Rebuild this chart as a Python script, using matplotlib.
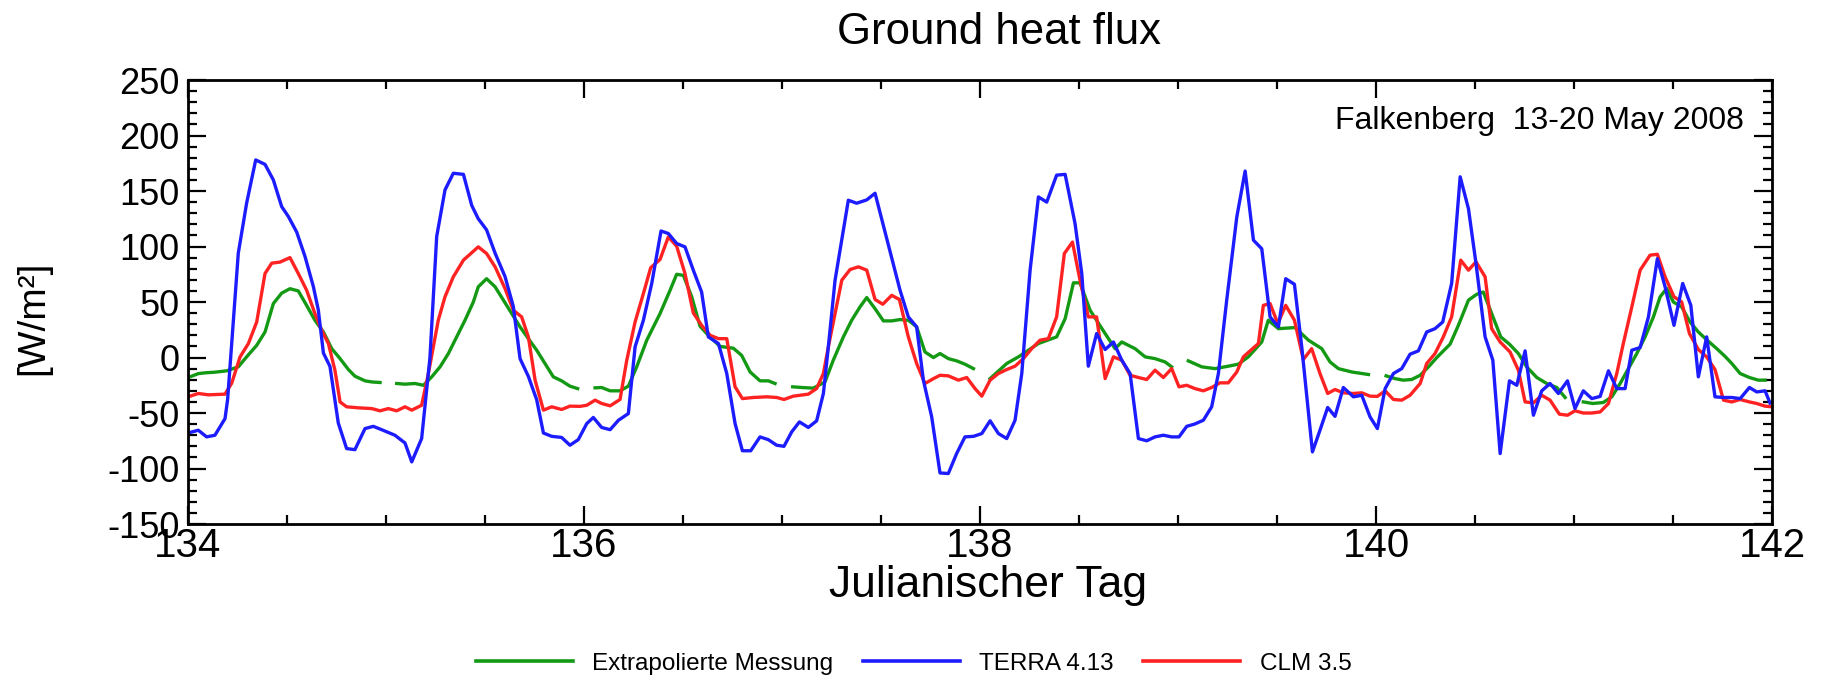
import numpy as np
import matplotlib
matplotlib.use("Agg")
import matplotlib.pyplot as plt
from matplotlib.ticker import MultipleLocator
from matplotlib.lines import Line2D

plt.rcParams['font.family'] = ['Liberation Sans', 'DejaVu Sans']
plt.rcParams['axes.unicode_minus'] = False

nan = np.nan

# ---- TERRA 4.13 (blue) ----
terra_t = [134.000, 134.052, 134.094, 134.136, 134.187, 134.200, 134.254, 134.296, 134.342, 134.389,
           134.431, 134.473, 134.507, 134.549, 134.591, 134.633, 134.658, 134.684, 134.717, 134.759,
           134.801, 134.843, 134.894, 134.936, 134.978, 135.045, 135.096, 135.130, 135.180, 135.222,
           135.256, 135.298, 135.340, 135.391, 135.433, 135.466, 135.508, 135.551, 135.601, 135.643,
           135.677, 135.719, 135.761, 135.795, 135.837, 135.887, 135.929, 135.971,
           136.014, 136.047, 136.089, 136.132, 136.174, 136.224, 136.258, 136.300, 136.342, 136.389,
           136.426, 136.468, 136.510, 136.552, 136.594, 136.628, 136.679, 136.721, 136.763, 136.800,
           136.842, 136.889, 136.931, 136.973, 137.010, 137.049, 137.088, 137.133, 137.175, 137.209,
           137.234, 137.268, 137.335, 137.377, 137.428, 137.470, 137.596, 137.638, 137.680, 137.714,
           137.756, 137.798, 137.840, 137.882, 137.924, 137.967, 138.009,
           138.051, 138.093, 138.135, 138.177, 138.211, 138.253, 138.295, 138.337, 138.387, 138.430,
           138.480, 138.514, 138.547, 138.589, 138.632, 138.674, 138.716, 138.758, 138.800, 138.842,
           138.884, 138.926, 138.968, 139.005, 139.044, 139.083, 139.128, 139.170, 139.204, 139.246,
           139.297, 139.339, 139.381, 139.423, 139.465, 139.507, 139.544, 139.588, 139.625, 139.679,
           139.717, 139.756, 139.793, 139.835, 139.886, 139.928, 139.970,
           140.007, 140.046, 140.088, 140.130, 140.172, 140.214, 140.256, 140.298, 140.337, 140.382,
           140.425, 140.467, 140.505, 140.551, 140.590, 140.627, 140.674, 140.711, 140.753, 140.795,
           140.837, 140.879, 140.921, 140.967, 141.005, 141.047, 141.090, 141.132, 141.174, 141.216,
           141.258, 141.292, 141.334, 141.376, 141.421, 141.460, 141.505, 141.549, 141.590, 141.628,
           141.670, 141.712, 141.755, 141.797, 141.839, 141.886, 141.923, 141.965, 141.990]
terra_v = [-68, -65.5, -71.5, -70, -55, -38, 94, 139, 178, 174,
           160, 136, 127, 113, 91, 64, 43, 4, -8, -59,
           -82, -83, -64, -62, -65, -70, -77, -94, -73, 0,
           109, 151, 166, 165, 137, 125, 115, 94, 73, 46,
           -1, -17, -38, -68, -71, -72, -79, -74,
           -59.5, -54, -63, -65, -56.5, -50.5, 9.6, 33.6, 66.7, 114,
           111.7, 102.7, 99.7, 78.7, 59, 18.6, 12.6, -14.4, -59.5, -84,
           -84, -71.5, -74, -79, -80, -67, -58, -63, -57, -32.4,
           9.6, 69.7, 141.7, 139, 142, 148, 60.7, 36.6, 27.6, -20.4,
           -53.5, -104, -104.5, -86.5, -71.5, -71, -68.5,
           -57, -68.5, -73, -56.5, -14.4, 78.7, 144.7, 140, 164.3, 165,
           120.7, 75.7, -7.8, 21.6, 7.2, 14, -2.4, -14.4, -73, -75,
           -71.5, -70, -71.5, -71.5, -62, -60, -56.5, -44.4, -14.4, 51.7,
           126.7, 168, 105.7, 98, 36.6, 27.6, 71, 66, 9.6, -85,
           -65.5, -45, -53, -27, -35.4, -34, -53.5,
           -64, -28, -14.4, -10, 3, 6, 23, 26, 32, 66.7,
           162.8, 134, 84.7, 18.6, -2.4, -86.5, -21, -25, 6, -52,
           -30, -23.4, -32.4, -21, -46, -30, -37, -35, -12, -28,
           -28, 6.6, 9, 36.6, 89, 63.7, 29, 66.7, 47, -17.4,
           18.6, -35.4, -36, -36, -37, -27, -31, -30, -41]

# ---- CLM 3.5 (red) ----
clm_t = [134.000, 134.052, 134.103, 134.187, 134.221, 134.263, 134.305, 134.347, 134.389, 134.423,
         134.465, 134.515, 134.557, 134.599, 134.641, 134.675, 134.709, 134.742, 134.768, 134.801,
         134.860, 134.928, 134.970, 135.012, 135.054, 135.096, 135.130, 135.180, 135.214, 135.239,
         135.264, 135.298, 135.340, 135.391, 135.466, 135.508, 135.551, 135.601, 135.643, 135.685,
         135.719, 135.753, 135.795, 135.837, 135.887, 135.929, 135.980,
         136.014, 136.056, 136.089, 136.132, 136.182, 136.216, 136.258, 136.300, 136.337, 136.384,
         136.426, 136.468, 136.510, 136.552, 136.594, 136.637, 136.679, 136.721, 136.763, 136.800,
         136.855, 136.923, 136.973, 137.010, 137.057, 137.133, 137.175, 137.209, 137.234, 137.268,
         137.302, 137.344, 137.386, 137.428, 137.470, 137.509, 137.554, 137.593, 137.638, 137.680,
         137.722, 137.765, 137.798, 137.840, 137.891, 137.933, 137.975, 138.009,
         138.051, 138.093, 138.135, 138.177, 138.219, 138.261, 138.303, 138.345, 138.387, 138.426,
         138.467, 138.505, 138.547, 138.589, 138.632, 138.674, 138.716, 138.758, 138.800, 138.842,
         138.884, 138.926, 138.968, 139.005, 139.044, 139.086, 139.128, 139.170, 139.212, 139.254,
         139.297, 139.330, 139.372, 139.406, 139.431, 139.465, 139.504, 139.544, 139.588, 139.633,
         139.675, 139.717, 139.756, 139.793, 139.835, 139.886, 139.928, 139.970,
         140.007, 140.046, 140.088, 140.130, 140.172, 140.223, 140.256, 140.298, 140.340, 140.382,
         140.428, 140.467, 140.505, 140.551, 140.584, 140.627, 140.677, 140.719, 140.753, 140.795,
         140.837, 140.879, 140.926, 140.967, 141.005, 141.047, 141.090, 141.132, 141.174, 141.216,
         141.249, 141.292, 141.334, 141.384, 141.421, 141.460, 141.505, 141.544, 141.583, 141.628,
         141.670, 141.712, 141.755, 141.797, 141.839, 141.886, 141.923, 141.965, 142.000]
clm_v = [-35.4, -32.4, -33.6, -33, -23, 0.6, 12.6, 32, 75.7, 85,
         86, 90, 75.7, 60.7, 39.6, 24.6, 12.6, -11.4, -40, -44.4,
         -45.3, -46, -48, -46, -48, -44.4, -47.4, -43, -14.4, 9.6,
         33.6, 54.7, 72.7, 87.7, 99.7, 93.7, 81.7, 62.2, 42.6, 36.6,
         18.6, -20.4, -47.4, -44.4, -46.8, -43.8, -44,
         -43, -38.4, -41.4, -43.5, -37.8, -2.4, 32, 57.7, 81, 88.3,
         108.7, 100.3, 75.7, 40.2, 29, 20, 17, 17, -26.4, -37,
         -36, -35.4, -36, -37.8, -34.8, -33, -27.9, -14.4, 9.6, 39.6,
         69.7, 79.3, 81.7, 78.7, 52.3, 48, 56, 52.3, 18.6, -5.4,
         -23.4, -19, -16, -16.5, -20.4, -18, -28, -34.8,
         -20.4, -14.4, -10.8, -7.8, -1, 8, 15.6, 17, 36.6, 93.7,
         104, 69.7, 36.6, 36.6, -19, 0.6, -2.4, -16, -18, -19.8,
         -11.4, -18, -10, -26.4, -25, -28, -30, -27, -22.8, -22.8,
         -13, 0.6, 7.2, 12.6, 47, 48.6, 30.6, 47, 33.6, -1.8,
         8, -14.4, -32.4, -28.8, -31.8, -32.4, -31.8, -34.8,
         -35, -30, -37.8, -38.4, -34, -23.4, -5.4, 3.6, 18.6, 36.6,
         87.7, 78.7, 86.2, 72.7, 26, 14, 5, -11.4, -40, -40.8,
         -34, -38.4, -51, -52, -48, -50, -50, -49, -41.4, -14.4,
         12.6, 45.6, 78.7, 92.2, 93, 72.7, 54.7, 50, 21.6, 7.2,
         0.6, -10.8, -38.4, -40, -37.8, -40, -41.4, -43.8, -44.4]

# ---- Extrapolierte Messung (green), NaN = missing ----
meas_t = [134.010, 134.052, 134.086, 134.136, 134.195, 134.254, 134.296, 134.347, 134.389, 134.431,
          134.473, 134.515, 134.557, 134.599, 134.641, 134.684, 134.726, 134.768, 134.810, 134.843,
          134.894, 134.928, 134.970, 135.010,
          135.054, 135.096, 135.146, 135.189, 135.231, 135.273, 135.315, 135.357, 135.399, 135.441,
          135.466, 135.508, 135.551, 135.593, 135.635, 135.677, 135.719, 135.761, 135.803, 135.845,
          135.887, 135.929, 135.968, 136.010,
          136.056, 136.089, 136.132, 136.182, 136.224, 136.266, 136.317, 136.384, 136.435, 136.468,
          136.502, 136.544, 136.586, 136.628, 136.687, 136.754, 136.796, 136.839, 136.889, 136.931,
          136.965, 137.010,
          137.054, 137.100, 137.158, 137.217, 137.259, 137.310, 137.352, 137.394, 137.428, 137.470,
          137.512, 137.554, 137.596, 137.638, 137.680, 137.722, 137.765, 137.798, 137.840, 137.882,
          137.924, 137.967, 138.010,
          138.051, 138.135, 138.194, 138.295, 138.387, 138.430, 138.472, 138.505, 138.556, 138.632,
          138.682, 138.716, 138.783, 138.834, 138.884, 138.935, 138.968, 139.010,
          139.052, 139.120, 139.187, 139.254, 139.305, 139.355, 139.423, 139.456, 139.507, 139.591,
          139.659, 139.726, 139.768, 139.810, 139.877, 139.962, 140.010,
          140.051, 140.096, 140.138, 140.180, 140.223, 140.265, 140.307, 140.374, 140.416, 140.467,
          140.509, 140.542, 140.584, 140.630, 140.674, 140.719, 140.761, 140.812, 140.862, 140.913,
          140.955, 141.000,
          141.047, 141.095, 141.148, 141.191, 141.233, 141.275, 141.317, 141.359, 141.401, 141.435,
          141.468, 141.502, 141.544, 141.586, 141.628, 141.670, 141.721, 141.763, 141.797, 141.839,
          141.886, 141.931, 141.965]
meas_v = [-17.4, -14.5, -13.8, -13.2, -12, -8.4, 0.6, 11, 23, 48.6,
          58, 62, 60, 47, 33.6, 23, 8, -1, -10.8, -16.8,
          -21, -22, -22.5, nan,
          -23.4, -24, -23.4, -25, -17.4, -8.4, 3.6, 18.6, 33.6, 50,
          63.7, 71, 63.7, 51.7, 39.6, 27.6, 17, 6.6, -5.4, -17.4,
          -21, -25.8, -28, nan,
          -27.3, -27, -30, -30, -25.8, -8.4, 15.6, 39.6, 60.7, 75,
          74, 54.7, 28.2, 20, 10, 8.4, 2, -13, -21, -21,
          -23.4, nan,
          -26.4, -27, -27.6, -22, -2.4, 18.6, 33.6, 45.6, 54, 44,
          33, 33, 34.2, 33.6, 27.6, 5, 0, 3.6, -1, -3,
          -6, -10, nan,
          -19, -5.4, 0.6, 12.6, 18.6, 35, 67.3, 67.3, 42.6, 21.6,
          8, 14, 8, 0.6, -1, -4, -8.4, nan,
          -3, -8.4, -10, -7.8, -6, 0.6, 14, 33.6, 26, 27,
          15.6, 8, -4, -10, -13, -15.3, nan,
          -16.5, -19, -20.4, -19.8, -16, -8.4, 0, 12, 29, 51.7,
          57, 59, 39.6, 18.6, 12, 3.6, -8.4, -18, -23.4, -27,
          -36, nan,
          -40, -41.4, -40.5, -35.4, -23.4, -10, 3.6, 18.6, 36.6, 54.7,
          62.2, 50, 45.6, 32, 23, 16, 8, 1, -5.4, -14.4,
          -18, -20.4, -20.4]

labels = ["Extrapolierte Messung", "TERRA 4.13", "CLM 3.5"]
colors = ["#149914", "#1c1cff", "#ff2222"]

fig = plt.figure(figsize=(18.27, 6.81), dpi=100)
ax = fig.add_axes([0.1029, 0.2305, 0.8670, 0.652])

lw = 2.4
ax.plot(meas_t, meas_v, color=colors[0], lw=lw)
ax.plot(clm_t, clm_v, color=colors[2], lw=lw)
ax.plot(terra_t, terra_v, color=colors[1], lw=lw)

ax.set_xlim(134, 142)
ax.set_ylim(-150, 250)
ax.xaxis.set_major_locator(MultipleLocator(2))
ax.xaxis.set_minor_locator(MultipleLocator(0.5))
ax.yaxis.set_major_locator(MultipleLocator(50))
ax.yaxis.set_minor_locator(MultipleLocator(10))
ax.tick_params(which='both', direction='in', top=True, right=True, width=1.6, colors='black')
ax.tick_params(which='major', length=13)
ax.tick_params(which='minor', length=6.5)
ax.tick_params(axis='x', which='major', labelsize=29, pad=2)
ax.tick_params(axis='y', which='major', labelsize=26, pad=6)
for s in ax.spines.values():
    s.set_linewidth(2.0)

fig.text(0.541, 0.140, "Julianischer Tag", fontsize=32, ha='center', va='center')
fig.text(0.018, 0.534, "[W/m²]", fontsize=28, ha='center', va='center', rotation=90)

fig.text(0.547, 0.952, "Ground heat flux", fontsize=31.5, ha='center', va='center')
ax.text(0.982, 0.908, "Falkenberg  13-20 May 2008", transform=ax.transAxes,
        fontsize=23, ha='right', va='center')

handles = [Line2D([], [], color=c, lw=2.6) for c in colors]
fig.legend(handles, labels, loc='center', bbox_to_anchor=(0.5, 0.025), ncol=3,
           frameon=False, fontsize=17.5, handlelength=4.0, handletextpad=0.8,
           columnspacing=1.2)

fig.savefig("out.png", dpi=100)
